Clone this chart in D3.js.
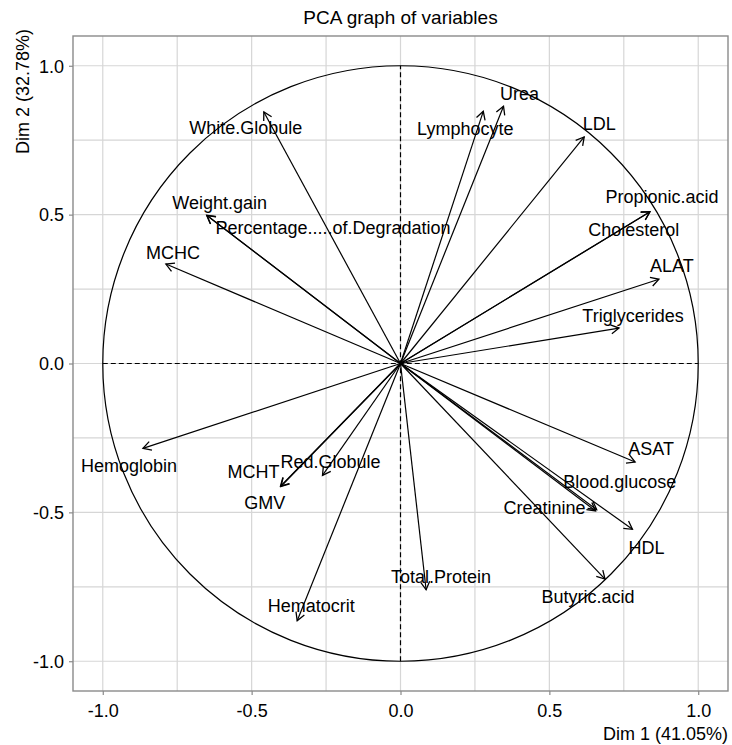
<!DOCTYPE html>
<html>
<head>
<meta charset="utf-8">
<script src="https://cdn.jsdelivr.net/npm/d3@7"></script>
<style>
  body { margin: 0; background: #fff; }
  text { font-family: "Liberation Sans", Arial, sans-serif; fill: #000; }
</style>
</head>
<body>
<div id="chart"></div>
<script>
// variable coordinates on the first two dimensions
const variables = ["White.Globule", "Weight.gain", "Percentage.....of.Degradation", "MCHC",
  "Hemoglobin", "MCHT", "GMV", "Red.Globule", "Hematocrit", "Total.Protein", "Butyric.acid",
  "HDL", "Creatinine", "Blood.glucose", "ASAT", "Triglycerides", "ALAT", "Cholesterol",
  "Propionic.acid", "LDL", "Urea", "Lymphocyte"];
const dim1 = [-0.459, -0.651, -0.650, -0.788, -0.865, -0.403, -0.402, -0.262, -0.347, 0.086, 0.687,
  0.779, 0.655, 0.659, 0.788, 0.734, 0.868, 0.837, 0.838, 0.617, 0.346, 0.278];
const dim2 = [0.845, 0.498, 0.497, 0.334, -0.285, -0.412, -0.413, -0.376, -0.864, -0.760, -0.724,
  -0.557, -0.495, -0.491, -0.331, 0.119, 0.283, 0.509, 0.510, 0.761, 0.864, 0.847];
const ticks = [-1.0, -0.5, 0.0, 0.5, 1.0];
const minorTicks = [-0.75, -0.25, 0.25, 0.75];
const title = "PCA graph of variables";
const xTitle = "Dim 1 (41.05%)";
const yTitle = "Dim 2 (32.78%)";

// label offsets (px) from arrow tips, as placed by the repel step
const labelOffset = {
  "White.Globule": [-18, 16], "Weight.gain": [13, -13], "Percentage.....of.Degradation": [126, 12],
  "MCHC": [7, -12], "Hemoglobin": [-14, 17], "MCHT": [-27, -15], "GMV": [-16, 16],
  "Red.Globule": [8, -14], "Hematocrit": [14, -15], "Total.Protein": [15, -13],
  "Butyric.acid": [-17, 17], "HDL": [14, 18], "Creatinine": [-51, -3], "Blood.glucose": [23, -28],
  "ASAT": [16, -14], "Triglycerides": [14, -13], "ALAT": [13, -14], "Cholesterol": [-16, 18],
  "Propionic.acid": [12, -15], "LDL": [15, -13], "Urea": [16, -13], "Lymphocyte": [-18, 17]
};

const width = 732, height = 745;
const margin = {top: 36, right: 4, bottom: 54, left: 73};
const pw = width - margin.left - margin.right,
      ph = height - margin.top - margin.bottom;

const svg = d3.select("#chart").append("svg")
  .attr("width", width)
  .attr("height", height);

const x = d3.scaleLinear().domain([-1.1, 1.1]).range([0, pw]);
const y = d3.scaleLinear().domain([-1.1, 1.1]).range([ph, 0]);
const fmt = d => d3.format(".1f")(d).replace("\u2212", "-");

const g = svg.append("g").attr("transform", `translate(${margin.left},${margin.top})`);

svg.append("defs").append("marker")
  .attr("id", "arrow")
  .attr("viewBox", "-10 -6 12 12")
  .attr("markerWidth", 12)
  .attr("markerHeight", 12)
  .attr("markerUnits", "userSpaceOnUse")
  .attr("refX", 0).attr("refY", 0)
  .attr("orient", "auto")
  .append("path")
  .attr("d", "M-8,-4.5L0,0L-8,4.5")
  .attr("fill", "none")
  .attr("stroke", "#000")
  .attr("stroke-width", 1.3);

// grid
const grid = g.append("g").attr("class", "grid");
ticks.concat(minorTicks).forEach(function(t){
  grid.append("line").attr("x1", x(t)).attr("x2", x(t)).attr("y1", 0).attr("y2", ph);
  grid.append("line").attr("y1", y(t)).attr("y2", y(t)).attr("x1", 0).attr("x2", pw);
});
grid.selectAll("line").attr("stroke", "#d6d6d6").attr("stroke-width", 1.2);

// axes
const xAxis = g.append("g").attr("transform", `translate(0,${ph})`)
  .call(d3.axisBottom(x).tickValues(ticks).tickFormat(fmt).tickSize(4).tickPadding(6));
const yAxis = g.append("g")
  .call(d3.axisLeft(y).tickValues(ticks).tickFormat(fmt).tickSize(4).tickPadding(5));
[xAxis, yAxis].forEach(function(a){
  a.select(".domain").remove();
  a.selectAll(".tick line").attr("stroke", "#8a8a8a").attr("stroke-width", 1.2);
  a.selectAll("text").style("font-size", "18px").attr("fill", "#333");
});
xAxis.selectAll("text").attr("dy", "0.9em");
yAxis.selectAll("text").attr("dy", "0.35em");

// panel border
g.append("rect").attr("width", pw).attr("height", ph)
  .attr("fill", "none").attr("stroke", "#8a8a8a").attr("stroke-width", 1.4);

// unit circle and dashed axes
g.append("circle").attr("cx", x(0)).attr("cy", y(0)).attr("r", x(1) - x(0))
  .attr("fill", "none").attr("stroke", "#000").attr("stroke-width", 1.2);
g.append("line").attr("x1", x(-1)).attr("x2", x(1)).attr("y1", y(0)).attr("y2", y(0))
  .attr("stroke", "#000").attr("stroke-width", 1.2).attr("stroke-dasharray", "5,3");
g.append("line").attr("x1", x(0)).attr("x2", x(0)).attr("y1", y(-1)).attr("y2", y(1))
  .attr("stroke", "#000").attr("stroke-width", 1.2).attr("stroke-dasharray", "5,3");

const data = variables.map(function(v, i){ return {name: v, x: dim1[i], y: dim2[i]}; });

g.selectAll(".arrow").data(data).enter().append("line")
  .attr("class", "arrow")
  .attr("x1", x(0)).attr("y1", y(0))
  .attr("x2", d => x(d.x)).attr("y2", d => y(d.y))
  .attr("stroke", "#000").attr("stroke-width", 1.2)
  .attr("marker-end", "url(#arrow)");

g.selectAll(".lab").data(data).enter().append("text")
  .attr("class", "lab")
  .attr("x", d => x(d.x) + labelOffset[d.name][0])
  .attr("y", d => y(d.y) + labelOffset[d.name][1])
  .attr("dy", "0.36em")
  .attr("text-anchor", "middle")
  .style("font-size", "18px")
  .text(d => d.name);

// titles
svg.append("text").attr("x", margin.left + pw / 2).attr("y", 24)
  .attr("text-anchor", "middle").style("font-size", "19px").text(title);
svg.append("text").attr("x", width - 4).attr("y", 740)
  .attr("text-anchor", "end").style("font-size", "18px").text(xTitle);
svg.append("text").attr("transform", `translate(29,${margin.top - 7}) rotate(-90)`)
  .attr("text-anchor", "end").style("font-size", "18px").text(yTitle);
</script>
</body>
</html>
